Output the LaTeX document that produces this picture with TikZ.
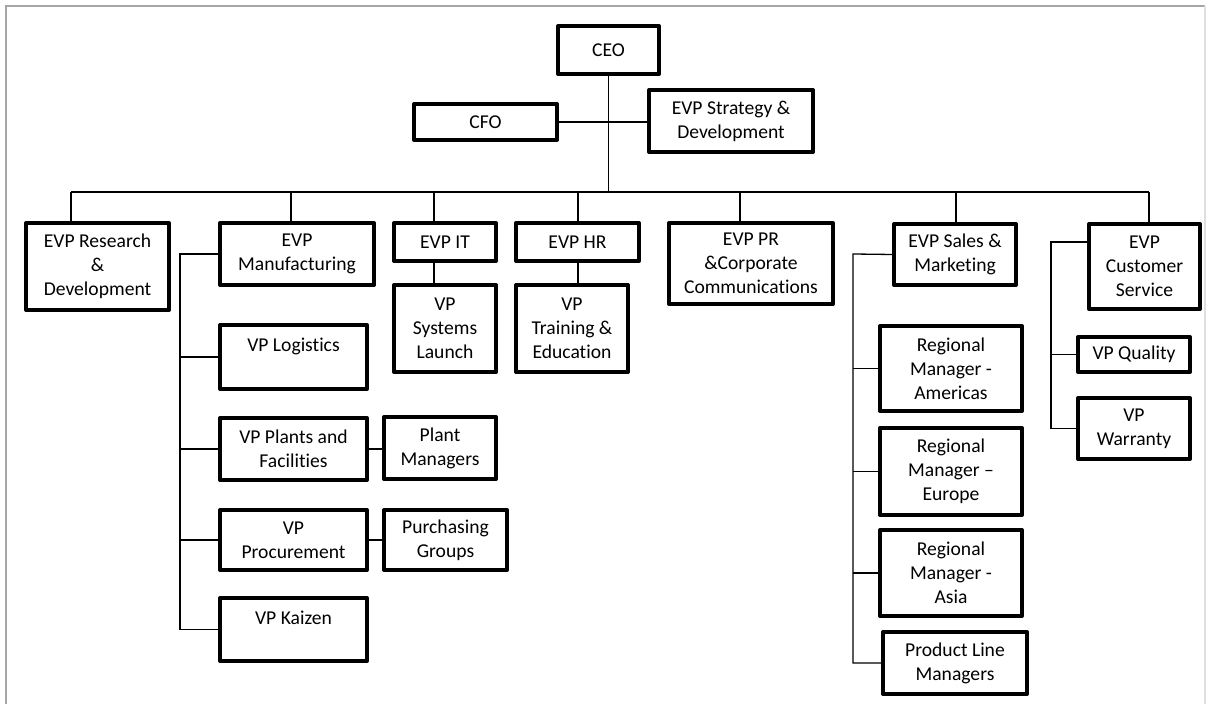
\documentclass[tikz,border=0pt]{standalone}
\usepackage{fontspec}
\setmainfont{Carlito}[Ligatures={NoCommon}]
\usetikzlibrary{positioning}

\begin{document}
\begin{tikzpicture}[x=0.5pt, y=-0.5pt,
    orgbox/.style={draw, line width=2pt, line join=round, inner sep=0pt, align=center,
      font=\fontsize{9.8}{12}\selectfont},
    link/.style={line width=0.65pt}]
    \useasboundingbox (0,0) rectangle (1206,704);
    % page frame
    \draw[gray!70, line width=0.6pt] (6,704) -- (6,6) -- (1205,6);
    \draw[gray!25, line width=0.6pt] (1205,6) -- (1205,704);

    % top of the chart
    \node[orgbox, minimum width=50.5pt, minimum height=24pt] (ceo) at (608.5,50) {CEO};
    \node[orgbox, minimum width=71.5pt, minimum height=18pt] (cfo) at (485.5,122) {CFO};
    \node[orgbox, minimum width=82pt, minimum height=31pt] (strat) at (731,121) {EVP Strategy \&\\Development};

    % executive vice presidents
    \node[orgbox, minimum width=71.5pt, minimum height=43.5pt] (rnd) at (97.5,266.5) {EVP Research\\\&\\Development};
    \node[orgbox, minimum width=77pt, minimum height=31pt] (mfg) at (297,254) {EVP\\Manufacturing};
    \node[orgbox, minimum width=51pt, minimum height=19pt] (it) at (445,242) {EVP IT};
    \node[orgbox, minimum width=61.5pt, minimum height=19pt] (hr) at (577.5,242) {EVP HR};
    \node[orgbox, minimum width=82pt, minimum height=40.5pt] (pr) at (751,263.5) {EVP PR\\\&Corporate\\Communications};
    \node[orgbox, minimum width=61pt, minimum height=30.5pt] (sales) at (955,254.5) {EVP Sales \&\\Marketing};
    \node[orgbox, minimum width=55.5pt, minimum height=42.5pt] (cs) at (1144.5,266.5) {EVP\\Customer\\Service};

    % manufacturing
    \node[orgbox, minimum width=73.5pt, minimum height=32pt] (logi) at (293.5,357) {VP Logistics\\~};
    \node[orgbox, minimum width=73.5pt, minimum height=31pt] (plants) at (293.5,449) {VP Plants and\\Facilities};
    \node[orgbox, minimum width=56pt, minimum height=31pt] (plantmgr) at (440,448) {Plant\\Managers};
    \node[orgbox, minimum width=73.5pt, minimum height=30pt] (proc) at (293.5,540) {VP\\Procurement};
    \node[orgbox, minimum width=61.5pt, minimum height=30pt] (purch) at (445.5,540) {Purchasing\\Groups};
    \node[orgbox, minimum width=73.5pt, minimum height=31.5pt] (kaizen) at (293.5,629.5) {VP Kaizen\\~};

    % it and hr
    \node[orgbox, minimum width=51pt, minimum height=43.5pt] (syslaunch) at (445,328.5) {VP\\Systems\\Launch};
    \node[orgbox, minimum width=56pt, minimum height=43.5pt] (training) at (572,328.5) {VP\\Training \&\\Education};

    % sales
    \node[orgbox, minimum width=71pt, minimum height=42.5pt] (rmam) at (951,368.5) {Regional\\Manager -\\Americas};
    \node[orgbox, minimum width=71pt, minimum height=43.5pt] (rmeu) at (951,471.5) {Regional\\Manager –\\Europe};
    \node[orgbox, minimum width=71pt, minimum height=43pt] (rmas) at (951,573) {Regional\\Manager -\\Asia};
    \node[orgbox, minimum width=72pt, minimum height=31pt] (plm) at (955,663) {Product Line\\Managers};

    % customer service
    \node[orgbox, minimum width=56pt, minimum height=17.5pt] (quality) at (1134,354.5) {VP Quality};
    \node[orgbox, minimum width=56pt, minimum height=30.5pt] (warranty) at (1134,428.5) {VP\\Warranty};

    % connectors
    \coordinate (bus) at (608,192);
    \draw[link] (ceo.south) -- (ceo.south |- bus);
    \draw[link] (cfo.east) -- (cfo.east -| strat.west);
    \foreach \x/\n in {71/rnd, 291/mfg, 434/it, 578/hr, 740/pr, 956/sales, 1149/cs} {
        \coordinate (d-\n) at (\x,192);
        \draw[link] (d-\n) -- (d-\n |- \n.north);
    }
    \draw[link] (d-rnd) -- (d-cs);

    \coordinate (mspine) at (180,254);
    \draw[link] (mfg.west) -- (mspine) |- (kaizen.west);
    \foreach \n in {logi, plants, proc}
        \draw[link] (mspine |- \n.west) -- (\n.west);
    \draw[link] (plants.east) -- (plants.east -| plantmgr.west);
    \draw[link] (proc.east) -- (proc.east -| purch.west);

    \draw[link] (d-it |- it.south) -- (d-it |- syslaunch.north);
    \draw[link] (d-hr |- hr.south) -- (d-hr |- training.north);

    \coordinate (sspine) at (853,254);
    \draw[link] (sales.west) -- (sspine) |- (plm.west);
    \foreach \n in {rmam, rmeu, rmas}
        \draw[link] (sspine |- \n.west) -- (\n.west);

    \coordinate (cspine) at (1051,242);
    \draw[link] (cspine -| cs.west) -- (cspine) |- (warranty.west);
    \draw[link] (cspine |- quality.west) -- (quality.west);
\end{tikzpicture}
\end{document}
